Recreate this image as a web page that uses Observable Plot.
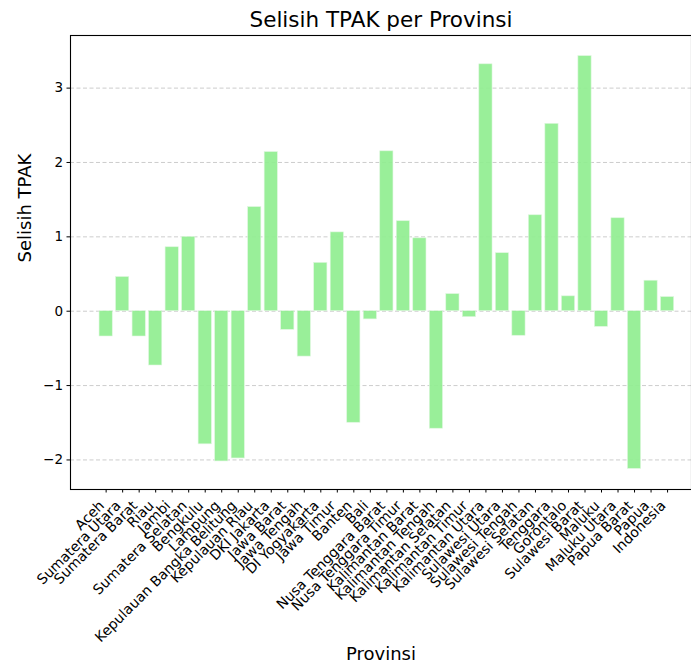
<!DOCTYPE html>
<html>
<head>
<meta charset="utf-8">
<script src="https://cdn.jsdelivr.net/npm/d3@7"></script>
<script src="https://cdn.jsdelivr.net/npm/@observablehq/plot@0.6"></script>
<style>
  html, body { margin: 0; padding: 0; background: #fff; }
  #chart svg { overflow: visible; }
</style>
</head>
<body>
<div id="chart"></div>
<script>
const provinsi = [
  "Aceh", "Sumatera Utara", "Sumatera Barat", "Riau", "Jambi", "Sumatera Selatan",
  "Bengkulu", "Lampung", "Kepulauan Bangka Belitung", "Kepulauan Riau", "DKI Jakarta",
  "Jawa Barat", "Jawa Tengah", "DI Yogyakarta", "Jawa Timur", "Banten", "Bali",
  "Nusa Tenggara Barat", "Nusa Tenggara Timur", "Kalimantan Barat", "Kalimantan Tengah",
  "Kalimantan Selatan", "Kalimantan Timur", "Kalimantan Utara", "Sulawesi Utara",
  "Sulawesi Tengah", "Sulawesi Selatan", "Tenggara", "Gorontalo", "Sulawesi Barat",
  "Maluku", "Maluku Utara", "Papua Barat", "Papua", "Indonesia"
];
const selisih = [
  -0.34, 0.46, -0.34, -0.73, 0.86, 1.00,
  -1.79, -2.02, -1.98, 1.40, 2.14,
  -0.25, -0.61, 0.65, 1.06, -1.50, -0.11,
  2.15, 1.21, 0.98, -1.58,
  0.23, -0.08, 3.32, 0.78,
  -0.33, 1.29, 2.52, 0.20, 3.43,
  -0.21, 1.25, -2.12, 0.41, 0.19
];
const yTicks = [-2, -1, 0, 1, 2, 3];

const data = provinsi.map((p, i) => ({provinsi: p, selisih: selisih[i]}));

const lo = d3.min(selisih), hi = d3.max(selisih);
const pad = (hi - lo) * 0.05;

const plot = Plot.plot({
  width: 691,
  height: 664,
  marginTop: 35,
  marginBottom: 175,
  marginLeft: 70,
  marginRight: 0,
  style: {fontFamily: "DejaVu Sans, sans-serif", background: "#fff", color: "#000"},
  x: {
    domain: provinsi,
    type: "band",
    round: false,
    paddingInner: 0.2,
    paddingOuter: 1.74,
    range: [70.3, 702.4]
  },
  y: {
    domain: [lo - pad, hi + pad],
    range: [489, 35]
  },
  marks: [
    Plot.gridY(yTicks, {stroke: "#b0b0b0", strokeOpacity: 0.7, strokeDasharray: "4,2.5", strokeWidth: 0.9}),
    Plot.barY(data, {x: "provinsi", y: "selisih", fill: "#90ee90", fillOpacity: 0.92, stroke: "#dff7df", strokeWidth: 0.6}),
    Plot.axisY({ticks: yTicks, tickSize: 3.5, tickPadding: 4, fontSize: 13.5, label: null, tickFormat: d => d < 0 ? "\u2212" + Math.abs(d) : String(d)}),
    Plot.axisX({tickSize: 3.5, tickFormat: () => "", label: null}),
    Plot.text(provinsi, {x: d => d, frameAnchor: "bottom", dy: 17, dx: -1, rotate: -45, textAnchor: "end", lineAnchor: "bottom", fontSize: 14, fill: "#000"}),
    Plot.frame({stroke: "#000", strokeWidth: 1.1}),
    Plot.text(["Selisih TPAK per Provinsi"], {frameAnchor: "top", dy: -15, fontSize: 21.5, fill: "#000", lineAnchor: "middle"}),
    Plot.text(["Selisih TPAK"], {frameAnchor: "left", dx: -45, rotate: -90, fontSize: 18, fill: "#000", lineAnchor: "middle"}),
    Plot.text(["Provinsi"], {frameAnchor: "bottom", dy: 165, fontSize: 18, fill: "#000", lineAnchor: "middle"})
  ]
});
document.getElementById("chart").appendChild(plot);
</script>
</body>
</html>
